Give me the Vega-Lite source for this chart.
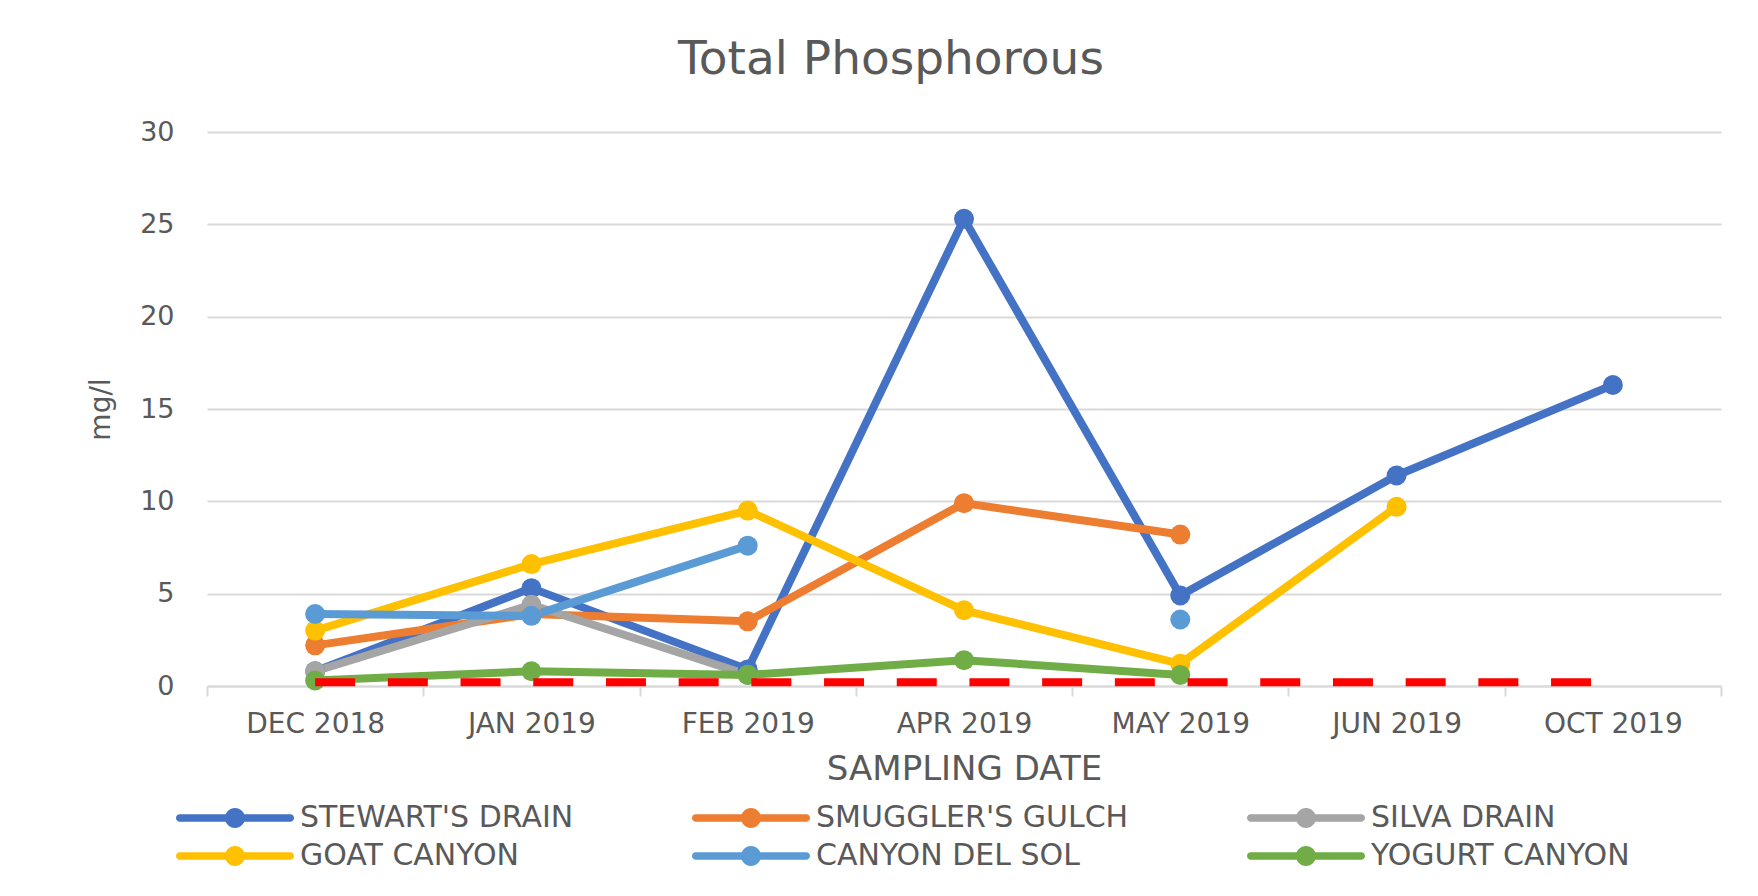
{
  "$schema": "https://vega.github.io/schema/vega-lite/v6.json",
  "width": 1514,
  "height": 554,
  "autosize": {"type": "none"},
  "padding": {"left": 207, "top": 132, "right": 37, "bottom": 210},
  "background": "white",
  "config": {"view": {"stroke": null}, "font": "DejaVu Sans"},
  "title": {
    "text": "Total Phosphorous",
    "font": "DejaVu Sans",
    "fontSize": 47,
    "fontWeight": "normal",
    "color": "#595959",
    "anchor": "middle",
    "dx": -73,
    "baseline": "alphabetic",
    "offset": -3
  },
  "datasets": {
    "sites": [
      {"date": "DEC 2018", "site": "STEWART'S DRAIN", "tp": 0.8},
      {"date": "JAN 2019", "site": "STEWART'S DRAIN", "tp": 5.3},
      {"date": "FEB 2019", "site": "STEWART'S DRAIN", "tp": 0.9},
      {"date": "APR 2019", "site": "STEWART'S DRAIN", "tp": 25.3},
      {"date": "MAY 2019", "site": "STEWART'S DRAIN", "tp": 4.9},
      {"date": "JUN 2019", "site": "STEWART'S DRAIN", "tp": 11.4},
      {"date": "OCT 2019", "site": "STEWART'S DRAIN", "tp": 16.3},
      {"date": "DEC 2018", "site": "SMUGGLER'S GULCH", "tp": 2.2},
      {"date": "JAN 2019", "site": "SMUGGLER'S GULCH", "tp": 3.9},
      {"date": "FEB 2019", "site": "SMUGGLER'S GULCH", "tp": 3.5},
      {"date": "APR 2019", "site": "SMUGGLER'S GULCH", "tp": 9.9},
      {"date": "MAY 2019", "site": "SMUGGLER'S GULCH", "tp": 8.2},
      {"date": "DEC 2018", "site": "SILVA DRAIN", "tp": 0.8},
      {"date": "JAN 2019", "site": "SILVA DRAIN", "tp": 4.4},
      {"date": "FEB 2019", "site": "SILVA DRAIN", "tp": 0.6},
      {"date": "DEC 2018", "site": "GOAT CANYON", "tp": 3.0},
      {"date": "JAN 2019", "site": "GOAT CANYON", "tp": 6.6},
      {"date": "FEB 2019", "site": "GOAT CANYON", "tp": 9.5},
      {"date": "APR 2019", "site": "GOAT CANYON", "tp": 4.1},
      {"date": "MAY 2019", "site": "GOAT CANYON", "tp": 1.2},
      {"date": "JUN 2019", "site": "GOAT CANYON", "tp": 9.7},
      {"date": "DEC 2018", "site": "CANYON DEL SOL", "tp": 3.9},
      {"date": "JAN 2019", "site": "CANYON DEL SOL", "tp": 3.8},
      {"date": "FEB 2019", "site": "CANYON DEL SOL", "tp": 7.6},
      {"date": "APR 2019", "site": "CANYON DEL SOL", "tp": null},
      {"date": "MAY 2019", "site": "CANYON DEL SOL", "tp": 3.6},
      {"date": "DEC 2018", "site": "YOGURT CANYON", "tp": 0.3},
      {"date": "JAN 2019", "site": "YOGURT CANYON", "tp": 0.8},
      {"date": "FEB 2019", "site": "YOGURT CANYON", "tp": 0.6},
      {"date": "APR 2019", "site": "YOGURT CANYON", "tp": 1.4},
      {"date": "MAY 2019", "site": "YOGURT CANYON", "tp": 0.6}
    ],
    "limit": [
      {"date": "DEC 2018", "tp": 0.2},
      {"date": "JAN 2019", "tp": 0.2},
      {"date": "FEB 2019", "tp": 0.2},
      {"date": "APR 2019", "tp": 0.2},
      {"date": "MAY 2019", "tp": 0.2},
      {"date": "JUN 2019", "tp": 0.2},
      {"date": "OCT 2019", "tp": 0.2}
    ]
  },
  "layer": [
    {
      "data": {"name": "sites"},
      "mark": {"type": "line", "strokeWidth": 8, "strokeCap": "round", "strokeJoin": "round", "invalid": "break-paths-show-domains"},
      "encoding": {
        "x": {
          "field": "date", "type": "ordinal",
          "sort": ["DEC 2018", "JAN 2019", "FEB 2019", "APR 2019", "MAY 2019", "JUN 2019", "OCT 2019"],
          "scale": {"type": "band", "paddingInner": 0, "paddingOuter": 0},
          "axis": {
            "title": "SAMPLING DATE", "titleFont": "DejaVu Sans", "titleFontSize": 34, "titleColor": "#595959", "titleFontWeight": "normal", "titlePadding": 14,
            "labelFont": "DejaVu Sans", "labelFontSize": 28, "labelColor": "#595959", "labelPadding": 14, "labelAngle": 0, "labelLimit": 300,
            "domainColor": "#D9D9D9", "domainWidth": 2, "tickColor": "#D9D9D9", "tickWidth": 2, "tickSize": 10, "tickBand": "extent", "grid": false
          }
        },
        "y": {
          "field": "tp", "type": "quantitative",
          "scale": {"domain": [0, 30]},
          "axis": {
            "title": "mg/l", "values": [0, 5, 10, 15, 20, 25, 30],
            "grid": true, "gridColor": "#D9D9D9", "gridWidth": 2, "domain": false, "ticks": false, "tickSize": 0,
            "labelFont": "DejaVu Sans", "labelPadding": 33, "labelFontSize": 27, "labelColor": "#595959",
            "titleFont": "DejaVu Sans", "titleFontSize": 28, "titleFontWeight": "normal", "titleColor": "#595959", "titlePadding": 24
          }
        },
        "color": {
          "field": "site", "type": "nominal",
          "scale": {
            "domain": ["STEWART'S DRAIN", "SMUGGLER'S GULCH", "SILVA DRAIN", "GOAT CANYON", "CANYON DEL SOL", "YOGURT CANYON"],
            "range": ["#4472C4", "#ED7D31", "#A5A5A5", "#FFC000", "#5B9BD5", "#70AD47"]
          },
          "legend": {
            "title": null, "orient": "none", "direction": "horizontal", "legendX": -31, "legendY": 671,
            "columns": 3, "columnPadding": 118, "rowPadding": 8, "padding": 0,
            "symbolType": "M-3.686,-0.247 L3.686,-0.247 A0.247,0.247 0 0,1 3.686,0.247 L-3.686,0.247 A0.247,0.247 0 0,1 -3.686,-0.247 Z M-0.667,0 A0.667,0.667 0 1,1 0.667,0 A0.667,0.667 0 1,1 -0.667,0 Z",
            "symbolSize": 900, "symbolStrokeWidth": 0, "symbolOffset": 44,
            "labelFont": "DejaVu Sans", "labelFontSize": 30, "labelColor": "#595959", "labelLimit": 600, "labelOffset": 50,
            "encode": {"symbols": {"update": {"fill": {"scale": "color", "field": "value"}, "fillOpacity": {"value": 1}, "opacity": {"value": 1}}}}
          }
        },
        "order": {"value": null}
      }
    },
    {
      "data": {"name": "sites"},
      "mark": {"type": "point", "filled": true, "size": 400, "opacity": 1},
      "encoding": {
        "x": {"field": "date", "type": "ordinal", "sort": ["DEC 2018", "JAN 2019", "FEB 2019", "APR 2019", "MAY 2019", "JUN 2019", "OCT 2019"]},
        "y": {"field": "tp", "type": "quantitative"},
        "color": {"field": "site", "type": "nominal"}
      }
    },
    {
      "data": {"name": "limit"},
      "mark": {"type": "line", "color": "#FF0000", "strokeWidth": 8, "strokeDash": [40, 32.7]},
      "encoding": {
        "x": {"field": "date", "type": "ordinal", "sort": ["DEC 2018", "JAN 2019", "FEB 2019", "APR 2019", "MAY 2019", "JUN 2019", "OCT 2019"]},
        "y": {"field": "tp", "type": "quantitative"},
        "order": {"value": null}
      }
    }
  ]
}
